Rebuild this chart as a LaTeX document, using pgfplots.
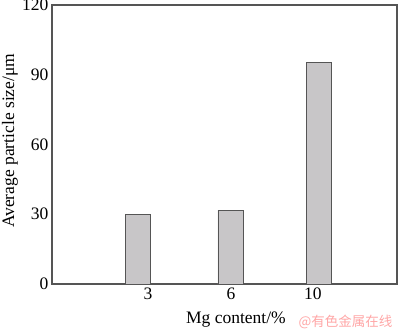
\documentclass[border=0pt]{standalone}
\usepackage{pgfplots}
\pgfplotsset{compat=1.18}
\usepackage{fontspec}
\setmainfont{Liberation Serif}
\newfontfamily\cjk{Noto Sans CJK SC}
\definecolor{barfill}{RGB}{200,198,200}
\definecolor{axgray}{RGB}{85,85,85}
\begin{document}
\begin{tikzpicture}
\begin{axis}[
  scale only axis,
  width=345pt, height=279pt,
  xmin=52, xmax=397,
  ymin=0, ymax=120,
  ytick={0,30,60,90,120},
  xtick={148,231,313},
  xticklabels={3,6,10},
  major tick length=0pt,
  axis line style={axgray, line width=1.3pt},
  /pgf/number format/assume math mode=true,
  tick label style={font=\fontsize{17.5}{20}\selectfont, black},
  xlabel={Mg content/\%},
  ylabel={Average particle size/μm},
  label style={font=\fontsize{17.5}{20}\selectfont},
  xlabel style={at={(axis description cs:0.533,0)}, anchor=center, yshift=-36pt},
  ylabel style={at={(axis description cs:0,0.513)}, anchor=center, yshift=42pt},
  clip=false,
]
\addplot[ybar, bar width=25, fill=barfill, draw=axgray, line width=0.9pt]
  coordinates {(138,30.1) (230.5,31.8) (318.7,95.3)};
\node[font=\cjk\fontsize{13.5}{15}\selectfont, text=red!35, anchor=east]
  at (axis description cs:1,0) [xshift=-1pt, yshift=-38pt] {@有色金属在线};
\end{axis}
\pgfresetboundingbox
\path (current axis.south west) ++(-52pt,-47pt) rectangle ++(400pt,331pt);
\end{tikzpicture}
\end{document}
